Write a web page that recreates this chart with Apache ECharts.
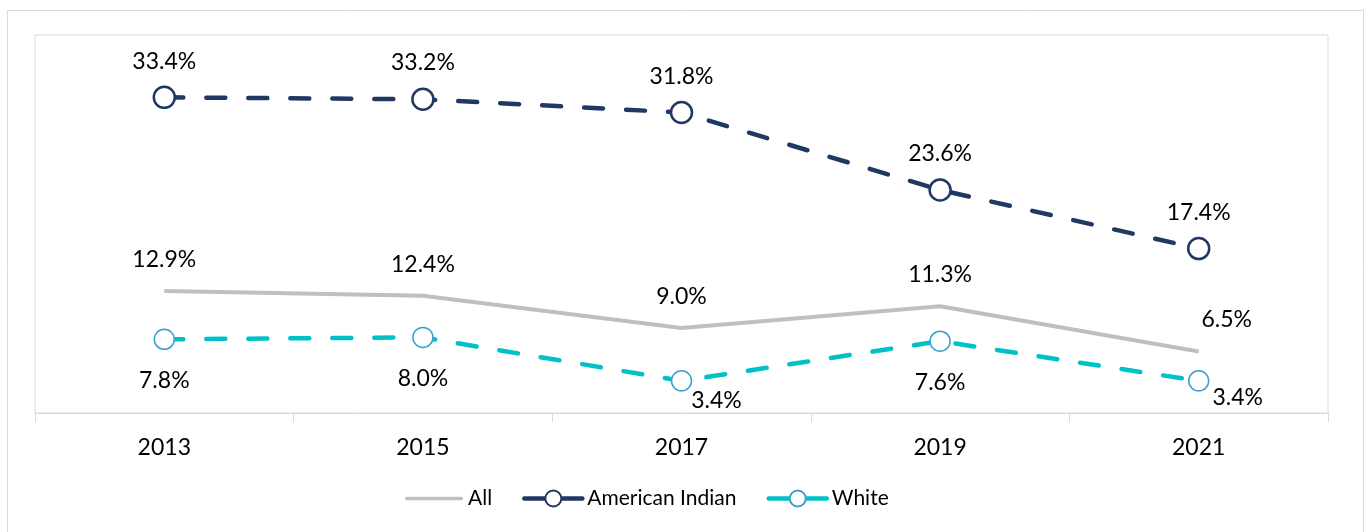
<!DOCTYPE html>
<html>
<head>
<meta charset="utf-8">
<script src="https://cdn.jsdelivr.net/npm/echarts@6/dist/echarts.min.js"></script>
<style>
html,body{margin:0;padding:0;background:#fff;}
#chart{width:1372px;height:532px;}
</style>
</head>
<body>
<div id="chart"></div>
<script>
const years = ['2013', '2015', '2017', '2019', '2021'];
const allValues = [12.9, 12.4, 9.0, 11.3, 6.5];
const americanIndianValues = [33.4, 33.2, 31.8, 23.6, 17.4];
const whiteValues = [7.8, 8.0, 3.4, 7.6, 3.4];

const FONT = 'Lato';
const fmt = p => p.value.toFixed(1) + '%';

const chart = echarts.init(document.getElementById('chart'), null, {renderer: 'canvas'});

const allData = allValues.map((v, i) => {
  if (i === 4) return {value: v, label: {offset: [28, 0]}};
  return v;
});
const whiteData = whiteValues.map((v, i) => {
  if (i === 2) return {value: v, label: {offset: [35, -22]}};
  if (i === 4) return {value: v, label: {offset: [39, -25]}};
  return v;
});

chart.setOption({
  animation: false,
  textStyle: {fontFamily: FONT},
  graphic: [{
    type: 'rect',
    shape: {x: 7.5, y: 10.5, width: 1356, height: 530},
    style: {fill: 'none', stroke: '#d9d9d9', lineWidth: 1},
    silent: true, z: -1
  }],
  grid: {left: 35, right: 44, top: 35, bottom: 119, show: true, borderColor: '#d9d9d9', borderWidth: 1},
  legend: {
    bottom: 18, left: 400,
    itemWidth: 58, itemHeight: 20, itemGap: 30,
    textStyle: {fontFamily: FONT, fontSize: 21, color: '#000'},
    lineStyle: {width: 4.5, type: 'solid', cap: 'round'},
    data: [
      {name: 'All', icon: 'path://M2,0 L60,0 A2,2 0 0 1 60,4 L2,4 A2,2 0 0 1 2,0 Z'},
      'American Indian',
      'White'
    ]
  },
  xAxis: {
    type: 'category', data: years, boundaryGap: true,
    axisLine: {lineStyle: {color: '#d9d9d9', width: 1}},
    axisTick: {show: true, length: 9, lineStyle: {color: '#d9d9d9'}},
    axisLabel: {fontFamily: FONT, fontSize: 23, color: '#000', margin: 23},
    splitLine: {show: false}
  },
  yAxis: {
    type: 'value', min: 0, max: 40, interval: 10,
    show: false, splitLine: {show: false}
  },
  series: [
    {
      name: 'All', type: 'line', data: allData,
      symbol: 'circle', symbolSize: 0.1, showSymbol: true,
      itemStyle: {color: '#bfbfbf'},
      lineStyle: {color: '#bfbfbf', width: 4},
      label: {show: true, position: 'top', distance: 20, formatter: fmt,
              fontFamily: FONT, fontSize: 23, color: '#000'},
      z: 2
    },
    {
      name: 'American Indian', type: 'line', data: americanIndianValues,
      symbol: 'circle', symbolSize: 21,
      itemStyle: {color: '#ffffff', borderColor: '#1f3864', borderWidth: 2.5},
      lineStyle: {color: '#1f3864', width: 4.5, type: [19, 23], cap: 'round'},
      label: {show: true, position: 'top', distance: 13, formatter: fmt,
              fontFamily: FONT, fontSize: 23, color: '#000'},
      z: 3
    },
    {
      name: 'White', type: 'line', data: whiteData,
      symbol: 'circle', symbolSize: 20,
      itemStyle: {color: '#ffffff', borderColor: '#3a9fcf', borderWidth: 1.5},
      lineStyle: {color: '#00c1c8', width: 4.5, type: [19, 23], cap: 'round'},
      label: {show: true, position: 'bottom', distance: 19, formatter: fmt,
              fontFamily: FONT, fontSize: 23, color: '#000'},
      z: 3
    }
  ]
});
</script>
</body>
</html>
